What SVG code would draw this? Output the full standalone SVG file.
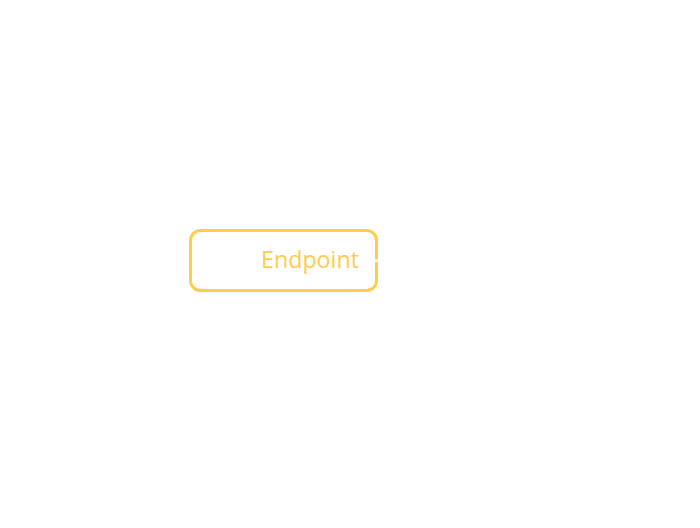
<svg xmlns="http://www.w3.org/2000/svg" width="700" height="528" viewBox="0 0 700 528">
<style>
.node{fill:#ffffff;stroke:#FFCC4D;stroke-width:3}
.lbl{fill:#FFCC4D;font-family:"Open Sans","Noto Sans",sans-serif;font-size:23px;text-anchor:end}
</style>
<rect width="700" height="528" fill="#ffffff"/>
<g id="endpoint">
<rect class="node" x="190.5" y="230.5" width="186" height="60" rx="10"/>
<text class="lbl" x="359" y="267.5" textLength="98" lengthAdjust="spacingAndGlyphs">Endpoint</text>
</g>
<g id="connectors">
<rect x="374" y="259.5" width="5" height="2.5" fill="#ffffff"/>
</g>
</svg>
